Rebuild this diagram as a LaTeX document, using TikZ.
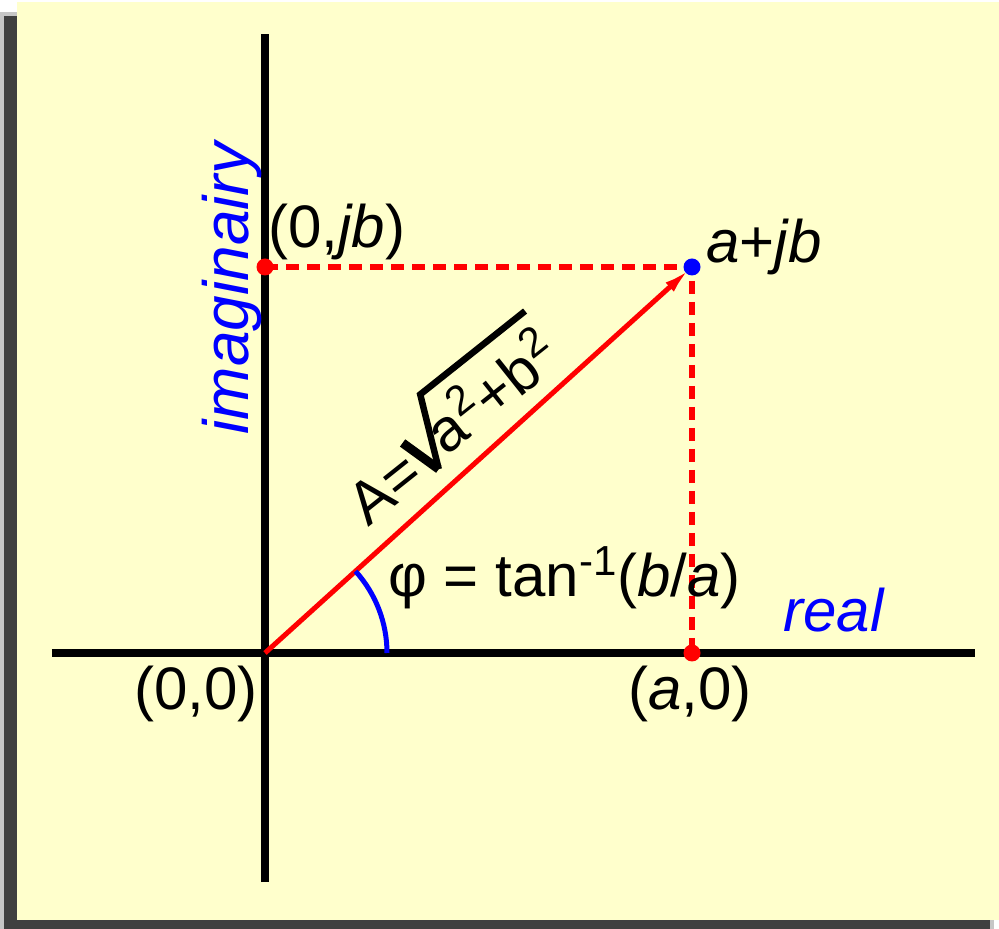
\RequirePackage{fix-cm}
\documentclass[tikz,border=0pt]{standalone}
\usepackage{fontspec}
\setmainfont{Liberation Sans}
\usetikzlibrary{arrows.meta}
\definecolor{paper}{RGB}{255,255,204}
\definecolor{shadow}{RGB}{64,64,64}
\tikzset{
  lbl/.style={inner sep=0pt,font=\fontsize{30}{36}\selectfont},
  axisline/.style={line width=3.75pt},
  reddash/.style={red,line width=3pt,dash pattern=on 6.5pt off 4pt},
  dot/.style={circle,fill=red,inner sep=0pt,minimum size=8.5pt},
  radical/.style={line width=3.25pt,line join=miter},
}
\begin{document}
\begin{tikzpicture}[x=50pt,y=50pt]
\useasboundingbox (-2.65,-2.76) rectangle (7.34,6.53);
\fill[gray!45] (-2.65,-2.76) rectangle (7.29,6.41);
\fill[shadow] (-2.61,-2.76) rectangle (7.25,6.37);
\fill[paper] (-2.48,-2.67) rectangle (7.34,6.51);
\coordinate (O) at (0,0);
\coordinate (P) at (4.27,3.86);
\coordinate (A0) at (4.27,0);
\coordinate (B0) at (0,3.86);
\coordinate (xl) at (-2.13,0);
\coordinate (xr) at (7.10,0);
\coordinate (yb) at (0,-2.29);
\coordinate (yt) at (0,6.19);
\coordinate (arcstart) at (1.22,0);
\draw[axisline] (xl) -- (xr);
\draw[axisline] (yb) -- (yt);
\draw[reddash] (B0) -- (P) -- (A0);
\node[dot,fill=blue] (Pdot) at (P) {};
\draw[red,line width=2.5pt,-{Latex[length=14pt,width=6pt]},shorten >=1pt] (O) -- (Pdot.center);
\node[dot] (Bdot) at (B0) {};
\node[dot] (Adot) at (A0) {};
\draw[blue,line width=2.5pt] (arcstart) arc (0:42.1:1.22);
\node[lbl,anchor=base west] (jblbl) at (0.03,4.05) {(0,\textit{jb})};
\node[lbl,anchor=base west] (Plbl) at (4.41,3.90) {\textit{a}+\textit{jb}};
\node[lbl,anchor=base east] (Olbl) at (-0.07,-0.57) {(0,0)};
\node[lbl,anchor=base] (Albl0) at (4.25,-0.57) {(\textit{a},0)};
\node[lbl,anchor=base west,text=blue] (relbl) at (5.18,0.21) {\textit{real}};
\node[lbl,anchor=base west] (philbl) at (1.23,0.56) {φ = tan\textsuperscript{-1}(\textit{b}/\textit{a})};
\node[lbl,anchor=base,text=blue,rotate=90,font=\fontsize{32}{38}\selectfont] (imlbl) at (-0.17,3.66) {\textit{imaginairy}};
% magnitude label, set along the vector
\begin{scope}[shift={(1.03,1.25)},rotate=38.5,transform shape]
\node[lbl,anchor=base west] (Aeq) at (0,0) {A=};
\node[lbl,anchor=base west] (rad) at (1.06,0.07) {a\textsuperscript{2}+b\textsuperscript{2}};
\draw[radical,line width=4.5pt] (0.80,0.45) -- (0.92,0.02);
\draw[radical] (0.92,0.02) -- (1.24,0.72) -- (2.58,0.72);
\end{scope}
\end{tikzpicture}
\end{document}
